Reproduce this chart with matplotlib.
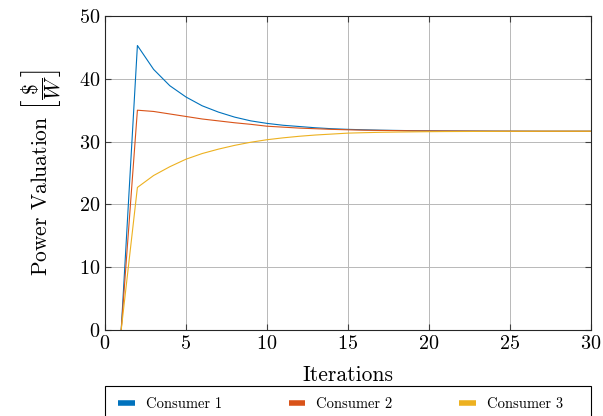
import matplotlib
matplotlib.use("Agg")
import matplotlib.pyplot as plt
from matplotlib.patches import Rectangle

plt.rcParams['font.family'] = 'serif'
plt.rcParams['font.serif'] = ['cmr10', 'DejaVu Serif']
plt.rcParams['mathtext.fontset'] = 'cm'
plt.rcParams['axes.formatter.use_mathtext'] = True

# iterations 1..30
iterations = list(range(1, 31))

consumer1 = [0.0, 45.3, 41.5, 38.9, 37.1, 35.7, 34.7, 33.9, 33.3, 32.9,
             32.6, 32.4, 32.2, 32.05, 31.95, 31.88, 31.82, 31.78, 31.74, 31.72,
             31.7, 31.69, 31.68, 31.67, 31.66, 31.66, 31.65, 31.65, 31.65, 31.65]
consumer2 = [0.0, 35.0, 34.8, 34.4, 34.0, 33.6, 33.3, 33.0, 32.75, 32.45,
             32.3, 32.15, 32.05, 31.95, 31.88, 31.82, 31.78, 31.75, 31.72, 31.7,
             31.69, 31.68, 31.67, 31.66, 31.66, 31.65, 31.65, 31.65, 31.65, 31.65]
consumer3 = [0.0, 22.7, 24.6, 26.0, 27.2, 28.1, 28.8, 29.4, 29.9, 30.3,
             30.6, 30.85, 31.05, 31.2, 31.35, 31.42, 31.48, 31.52, 31.55, 31.58,
             31.6, 31.61, 31.62, 31.63, 31.64, 31.64, 31.65, 31.65, 31.65, 31.65]

labels = ["Consumer 1", "Consumer 2", "Consumer 3"]
colors = ["#0072BD", "#D95319", "#EDB120"]

fig = plt.figure(figsize=(6.03, 4.16), dpi=100)
ax = fig.add_axes([105/603, 86/416, 486/603, 314/416])

for ys, lab, c in zip([consumer1, consumer2, consumer3], labels, colors):
    ax.plot(iterations, ys, color=c, lw=0.8, label=lab)

ax.set_xlim(0, 30)
ax.set_ylim(0, 50)
ax.set_xticks(range(0, 31, 5))
ax.set_yticks(range(0, 51, 10))
ax.grid(True, color='#b8b8b8', lw=0.7)
ax.set_axisbelow(True)
ax.tick_params(direction='in', top=True, right=True, labelsize=14.5, length=4,
               color='#404040')
for s in ax.spines.values():
    s.set_color('#262626')
    s.set_linewidth(0.8)

ax.set_xlabel("Iterations", fontsize=15.5, labelpad=9)
ax.set_ylabel(r"Power Valuation $\left[\dfrac{\$}{W}\right]$", fontsize=15.5, labelpad=11)

# legend box below the axes (frame drawn separately so entries keep fixed columns)
frame = Rectangle((0, -0.29), 1, 0.112, transform=ax.transAxes, fill=False,
                  edgecolor='black', lw=0.8, clip_on=False)
ax.add_patch(frame)
leg = ax.legend(loc='center left', bbox_to_anchor=(13/486, -0.236, 445/486, 0), mode='expand',
                ncol=3, borderaxespad=0, borderpad=0, fontsize=10.5, frameon=False,
                handlelength=1.15, handleheight=0.5, handletextpad=0.75)
for h in leg.get_lines():
    h.set_linewidth(4)
    h.set_solid_capstyle('butt')

fig.savefig("out.png", dpi=100)
